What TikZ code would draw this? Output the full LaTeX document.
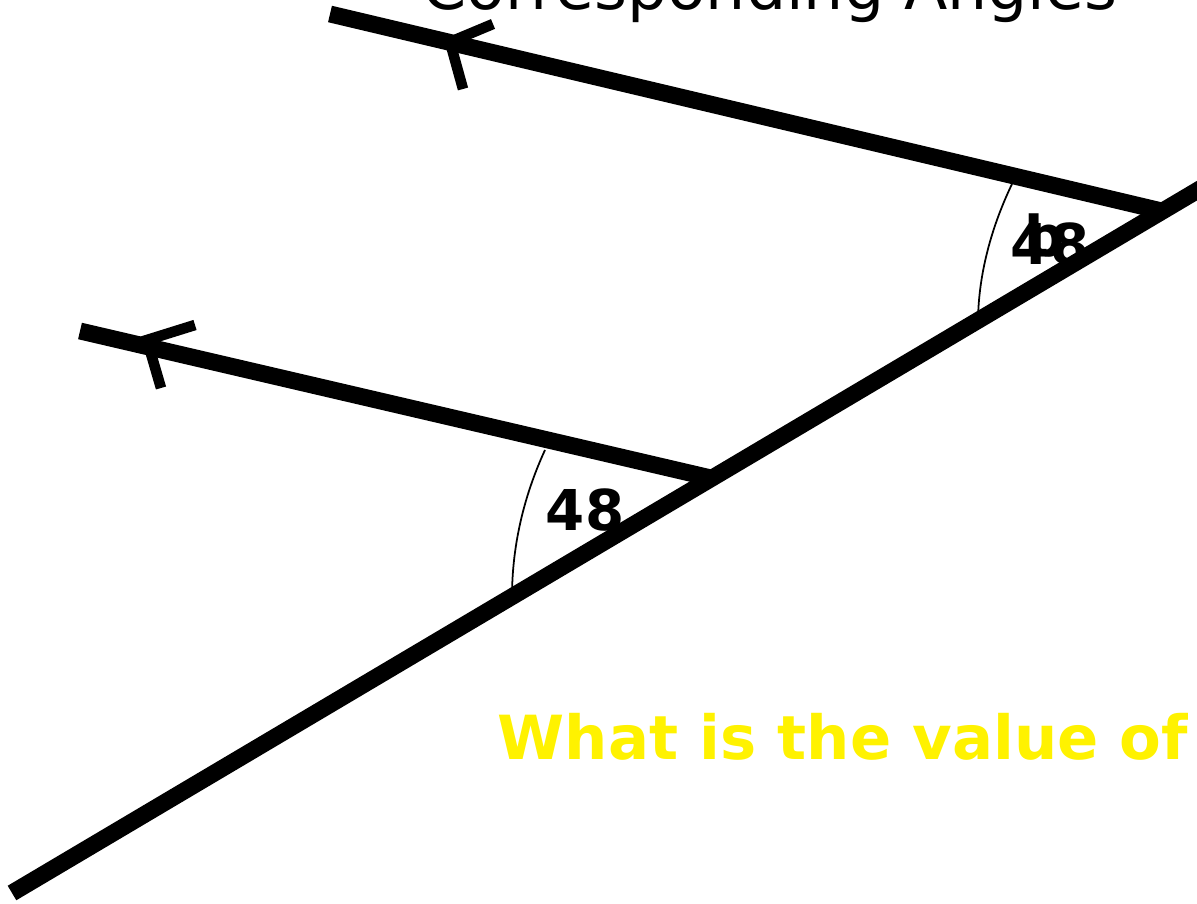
\documentclass[tikz,border=0pt]{standalone}
\usepackage{fontspec}
\setmainfont{DejaVu Sans}
\usetikzlibrary{calc}
\begin{document}
\begin{tikzpicture}[x=0.01cm,y=-0.01cm,
 line/.style={line width=4.8pt},
 tick/.style={line width=3pt},
 arc/.style={line width=0.5pt},
 lbl/.style={font=\fontsize{16}{16}\selectfont\bfseries,inner sep=0pt},
 title/.style={font=\fontsize{18}{18}\selectfont,anchor=base,inner sep=0pt},
 ask/.style={font=\fontsize{17.3}{17.3}\selectfont\bfseries,text=yellow,anchor=base west,inner sep=0pt}]
\useasboundingbox (0,0) rectangle (1197,904);
\clip (0,0) rectangle (1197,904);
\node[title] (ttl) at (770,10) {Corresponding Angles};
% transversal and the two parallels
\coordinate (tA) at (12,893);
\coordinate (tB) at (1215,180);
\coordinate (uA) at (330,14);
\coordinate (uB) at (1166,212);
\coordinate (lA) at (80,331);
\coordinate (lB) at (711,478);
\draw[line] (tA)--(tB);
\draw[line] (uA)--(uB);
\draw[line] (lA)--(lB);
% direction marks
\coordinate (uM) at (450,42);
\coordinate (lM) at (147,340);
\draw[tick] ($(uM)+(43,-18)$)--(uM)--($(uM)+(13,47)$);
\draw[tick] ($(lM)+(48,-15)$)--(lM)--($(lM)+(14,48)$);
% angle arcs
\draw[arc] (545,450) .. controls (522,500) and (512,550) .. (512,597);
\draw[arc] (1012,184) .. controls (989,232) and (978,280) .. (978,323);
\node[lbl] (low) at (585,510) {48};
\node[lbl] (upp) at (1050,244) {48};
\node[lbl] (var) at (1045,236) {b};
\node[ask] (q) at (497,760) {What is the value of};
\end{tikzpicture}
\end{document}
